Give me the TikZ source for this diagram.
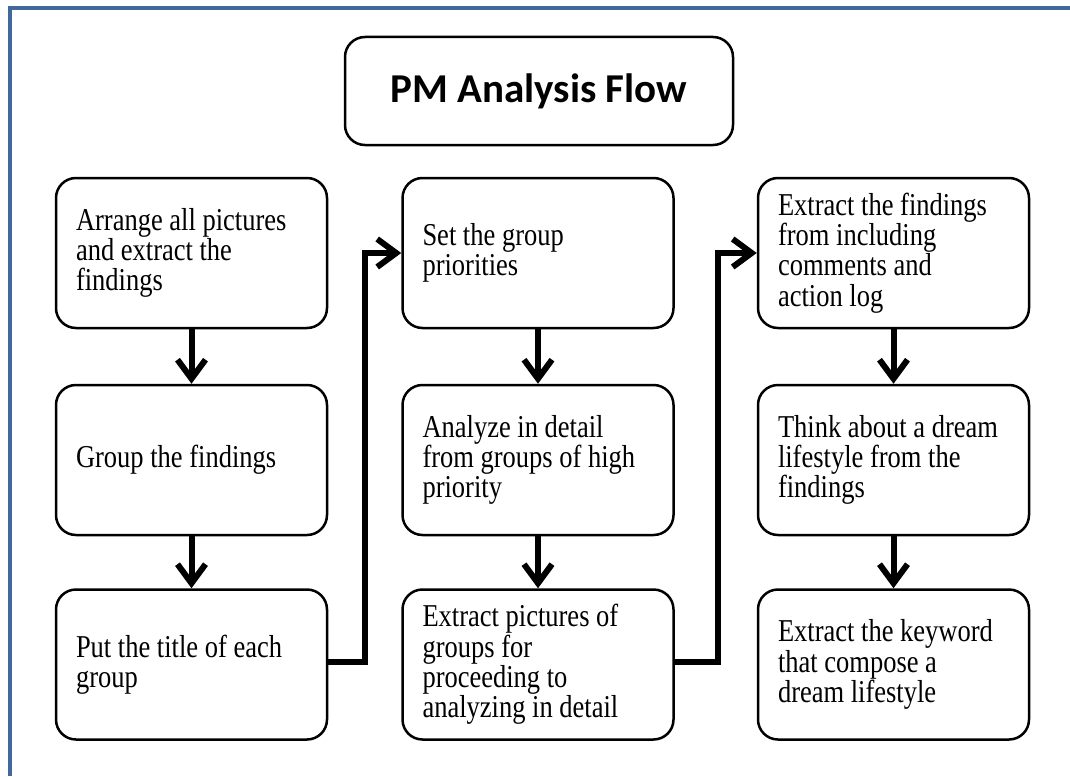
\documentclass[tikz,border=0pt]{standalone}
\usepackage{fontspec}
\setmainfont{Liberation Serif}
\newfontfamily\titlefont{Carlito}
\usetikzlibrary{arrows.meta}
\definecolor{framecol}{RGB}{64,104,154}
\newcommand{\boxtext}[1]{\scalebox{1}[1.2]{\parbox{231pt}{\raggedright\fontsize{26.5}{25.2}\selectfont\lineskiplimit=-100pt\relax #1}}}
\tikzset{
  stepbox/.style={draw=black, line width=2.5pt, rounded corners=20pt, fill=white,
    minimum width=271pt, minimum height=150pt,
    inner xsep=20pt, inner ysep=0pt},
  titlebox/.style={draw=black, line width=2.5pt, rounded corners=20pt,
    minimum width=388pt, minimum height=108pt, inner sep=0pt,
    font=\titlefont\bfseries\fontsize{41}{48}\selectfont},
  flow/.style={line width=6pt, -{Straight Barb[length=19pt,width=28pt]}},
  link/.style={line width=6pt, miter limit=10, -{Straight Barb[length=19pt,width=28pt]}},
}
\begin{document}
\begin{tikzpicture}[x=1pt,y=-1pt]
\useasboundingbox (0,0) rectangle (1070,776);
\fill[white] (0,0) rectangle (1070,776);
\draw[framecol, line width=3.5pt] (10,776) -- (10,8) -- (1070,8);

\node[titlebox] (title) at (539,91) {PM Analysis Flow};

\node[stepbox] (a1) at (191.5,253) {\boxtext{Arrange all pictures\\and extract the\\findings}};
\node[stepbox] (a2) at (191.5,460) {\boxtext{Group the findings}};
\node[stepbox] (a3) at (191.5,664.5) {\boxtext{Put the title of each\\group}};

\node[stepbox] (b1) at (538,253) {\boxtext{Set the group\\priorities}};
\node[stepbox] (b2) at (538,460) {\boxtext{Analyze in detail\\from groups of high\\priority}};
\node[stepbox] (b3) at (538,664.5) {\boxtext{Extract pictures of\\groups for\\proceeding to\\analyzing in detail}};

\node[stepbox] (c1) at (893.5,253) {\boxtext{Extract the findings\\from including\\comments and\\action log}};
\node[stepbox] (c2) at (893.5,460) {\boxtext{Think about a dream\\lifestyle from the\\findings}};
\node[stepbox] (c3) at (893.5,664.5) {\boxtext{Extract the keyword\\that compose a\\dream lifestyle}};

\draw[flow] (a1.south) -- (a2.north);
\draw[flow] (a2.south) -- (a3.north);
\draw[flow] (b1.south) -- (b2.north);
\draw[flow] (b2.south) -- (b3.north);
\draw[flow] (c1.south) -- (c2.north);
\draw[flow] (c2.south) -- (c3.north);

\coordinate (k1) at (365,662);
\coordinate (k2) at (718,662);
\draw[link] (a3.east |- k1) -- (k1) -- (k1 |- b1.west) -- (b1.west);
\draw[link] (b3.east |- k2) -- (k2) -- (k2 |- c1.west) -- (c1.west);
\end{tikzpicture}
\end{document}
